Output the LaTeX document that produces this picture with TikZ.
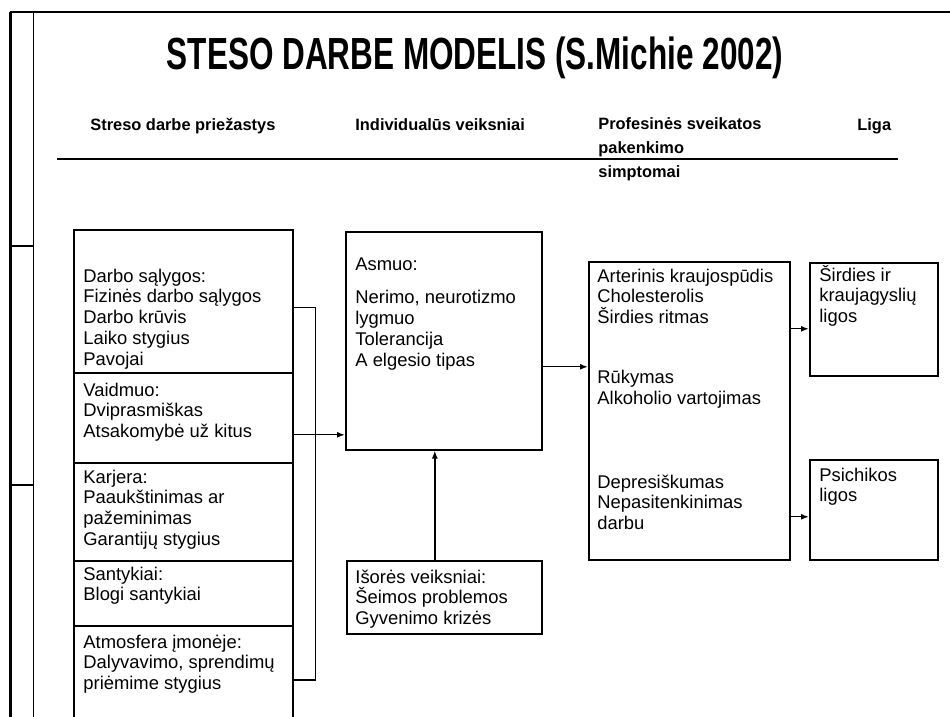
\documentclass[tikz,border=0pt]{standalone}
\usepackage{fontspec}
\setmainfont{Liberation Sans}
\usetikzlibrary{arrows.meta}
\begin{document}
\begin{tikzpicture}[x=0.5pt,y=-0.5pt,>={Latex[length=4pt,width=3pt]},
  box/.style={draw,line width=0.8pt,anchor=north west,inner sep=0pt},
  txt/.style={anchor=north west,align=left,inner sep=0pt,font=\fontsize{9.2}{10.4}\selectfont,
    execute at begin node={\rule{0pt}{7.3pt}}},
  head/.style={anchor=north west,align=left,inner sep=0pt,font=\fontsize{8.2}{12}\selectfont\bfseries,
    execute at begin node={\rule{0pt}{6.6pt}}},
  link/.style={->,line width=0.7pt}]
  \useasboundingbox (0,0) rectangle (950,717);
  % page frame
  \draw[line width=1.5pt] (10,12) -- (10,717);
  \draw[line width=0.4pt] (33,12) -- (33,717);
  \draw[line width=0.8pt] (10,12) -- (950,12);
  \draw[line width=0.6pt] (10,246) -- (33,246);
  \draw[line width=0.6pt] (10,485) -- (33,485);
  % title and column heads
  \node[anchor=base,inner sep=0pt,font=\fontsize{22.5}{27}\selectfont\bfseries] (title) at (475,70)
    {\scalebox{0.7}[1]{STESO DARBE MODELIS (S.Michie 2002)}};
  \node[head] (hcause) at (90,116.8) {Streso darbe priežastys};
  \node[head] (hindiv) at (355,116.8) {Individualūs veiksniai};
  \node[head] (hsimpt) at (598,116.8) {Profesinės sveikatos\\pakenkimo\\simptomai};
  \node[head] (hliga) at (857,116.8) {Liga};
  \draw[line width=1pt] (57,159) -- (898,159);
  % causes
  \node[box,minimum width=109.5pt,minimum height=71.5pt] (s1) at (73,229) {};
  \node[box,minimum width=109.5pt,minimum height=45pt] (s2) at (73,372) {};
  \node[box,minimum width=109.5pt,minimum height=49pt] (s3) at (73,462) {};
  \node[box,minimum width=109.5pt,minimum height=32.5pt] (s4) at (73,560) {};
  \node[box,minimum width=109.5pt,minimum height=54pt] (s5) at (73,625) {};
  \node[txt] (s1txt) at (83,268.4) {Darbo sąlygos:\\Fizinės darbo sąlygos\\Darbo krūvis\\Laiko stygius\\Pavojai};
  \node[txt] (s2txt) at (83,382.4) {Vaidmuo:\\Dviprasmiškas\\Atsakomybė už kitus};
  \node[txt] (s3txt) at (83,469.4) {Karjera:\\Paaukštinimas ar\\pažeminimas\\Garantijų stygius};
  \node[txt] (s4txt) at (83,566.4) {Santykiai:\\Blogi santykiai};
  \node[txt] (s5txt) at (83,634.4) {Atmosfera įmonėje:\\Dalyvavimo, sprendimų\\priėmime stygius};
  % individual and outer factors
  \node[box,minimum width=98pt,minimum height=109pt] (asmuo) at (345,231) {};
  \node[txt] (asmuotxt) at (355,257) {Asmuo:\\[6.5pt]Nerimo, neurotizmo\\lygmuo\\Tolerancija\\A elgesio tipas};
  \node[box,minimum width=97.5pt,minimum height=36.5pt] (isores) at (346,560) {};
  \node[txt] (isorestxt) at (355,569.4) {Išorės veiksniai:\\Šeimos problemos\\Gyvenimo krizės};
  % symptoms and illness
  \node[box,minimum width=100.5pt,minimum height=149pt] (simpt) at (588,261) {};
  \node[txt] (simpttxt) at (597,268.4) {Arterinis kraujospūdis\\Cholesterolis\\Širdies ritmas\\[19.5pt]%
    Rūkymas\\Alkoholio vartojimas\\[31.5pt]Depresiškumas\\Nepasitenkinimas\\darbu};
  \node[box,minimum width=64pt,minimum height=56.5pt] (sirdies) at (809,262) {};
  \node[txt] (sirdiestxt) at (819,267.4) {\smash{Š}irdies ir\\kraujagyslių\\ligos};
  \node[box,minimum width=64pt,minimum height=50pt] (psich) at (809,459) {};
  \node[txt] (psichtxt) at (819,467.4) {Psichikos\\ligos};
  % connectors
  \draw[line width=0.7pt] ([yshift=-3.25pt]s1.east) -- ++(22,0) |- (s5.east);
  \draw[link] ([yshift=-8.5pt]s2.east) coordinate (p) -- (p -| asmuo.west);
  \draw[link] ([yshift=-13pt]asmuo.east) coordinate (q) -- (q -| simpt.west);
  \draw[link] ([xshift=-4.75pt]isores.north) coordinate (r) -- (r |- asmuo.south);
  \draw[link] ([yshift=-4.75pt]sirdies.west -| simpt.east) coordinate (u) -- (u -| sirdies.west);
  \draw[link] ([yshift=-3.5pt]psich.west -| simpt.east) coordinate (v) -- (v -| psich.west);
\end{tikzpicture}
\end{document}
